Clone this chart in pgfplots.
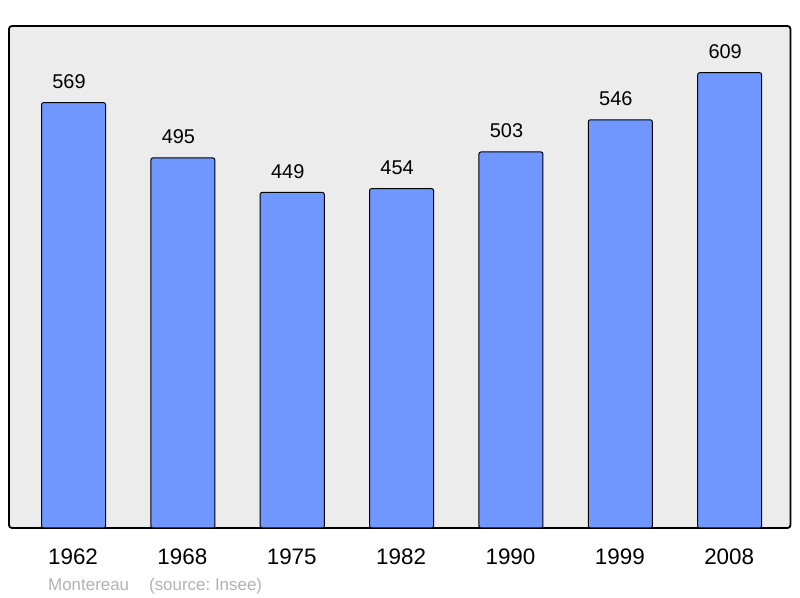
\documentclass[border=0pt]{standalone}
\usepackage{pgfplots}
\pgfplotsset{compat=1.18}
\usepackage{fontspec}
\setmainfont{Liberation Sans}
\definecolor{barblue}{RGB}{112,150,255}
\definecolor{bggray}{RGB}{236,236,236}
\definecolor{notegray}{RGB}{178,178,178}
\begin{document}
\begin{tikzpicture}
\useasboundingbox (0,0) rectangle (800bp,598bp);
\begin{axis}[
  at={(9bp,70bp)}, anchor=south west,
  scale only axis, width=781.5bp, height=502bp,
  xmin=-0.59, xmax=6.556, ymin=0, ymax=671.5,
  axis background/.style={fill=bggray, rounded corners=3bp},
  axis line style={line width=1.8bp, rounded corners=3bp},
  ytick=\empty,
  xtick={0,...,6},
  xticklabels={1962,1968,1975,1982,1990,1999,2008},
  xtick style={draw=none},
  xticklabel style={font=\fontsize{22.5}{24}\selectfont, anchor=north, inner sep=0pt, yshift=-16.5bp, xshift=-0.5bp},
  /pgf/number format/assume math mode=true,
  ybar, bar width=64bp, bar shift=0pt,
  nodes near coords,
  every node near coord/.append style={font=\fontsize{20}{22}\selectfont, anchor=base, inner sep=0pt, yshift=14bp, xshift=-4.5bp, black},
]
\addplot[draw=black, line width=1bp, fill=barblue, rounded corners=2bp]
  coordinates {(0,569) (1,495) (2,449) (3,454) (4,503) (5,546) (6,609)};
\end{axis}
\node[anchor=base west, inner sep=0pt, text=notegray, font=\fontsize{17}{19}\selectfont]
  at (48bp,8bp) {Montereau\hspace{20bp}(source:\hspace{4.7bp}Insee)};
\end{tikzpicture}
\end{document}
